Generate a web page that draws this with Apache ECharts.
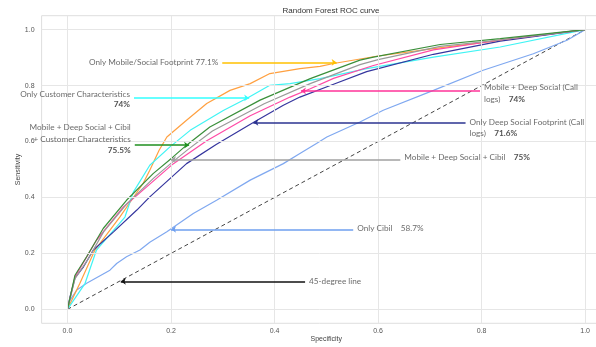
<!DOCTYPE html>
<html>
<head>
<meta charset="utf-8">
<script src="https://cdn.jsdelivr.net/npm/echarts@6/dist/echarts.min.js"></script>
<style>html,body{margin:0;padding:0;background:#fff}#c{width:596px;height:347px}</style>
</head>
<body>
<div id="c"></div>
<script>
// ---- data ----
const titleText = 'Random Forest ROC curve';
const xName = 'Specificity';
const yName = 'Sensitivity';
const xTicks = [0, 0.2, 0.4, 0.6, 0.8, 1.0];
const yTicks = [0, 0.2, 0.4, 0.6, 0.8, 1.0];

const cibil = [[0,0],[0.005,0.033],[0.018,0.069],[0.037,0.093],[0.082,0.14],[0.095,0.164],[0.114,0.188],[0.14,0.212],[0.159,0.24],[0.192,0.277],[0.201,0.289],[0.243,0.343],[0.288,0.39],[0.353,0.462],[0.417,0.521],[0.449,0.557],[0.481,0.593],[0.501,0.616],[0.565,0.67],[0.61,0.712],[0.707,0.783],[0.803,0.855],[0.9,0.914],[0.965,0.962],[1,1]];
const mobileSocial = [[0,0],[0.024,0.093],[0.053,0.212],[0.101,0.33],[0.146,0.45],[0.159,0.497],[0.177,0.569],[0.192,0.616],[0.23,0.676],[0.269,0.736],[0.314,0.783],[0.353,0.807],[0.391,0.843],[0.449,0.861],[0.488,0.869],[0.514,0.879],[0.597,0.905],[0.707,0.932],[0.836,0.962],[1,1]];
const customer = [[0,0],[0.034,0.093],[0.056,0.212],[0.111,0.33],[0.127,0.418],[0.159,0.515],[0.198,0.581],[0.237,0.64],[0.301,0.711],[0.346,0.754],[0.391,0.801],[0.43,0.807],[0.488,0.825],[0.578,0.861],[0.707,0.902],[0.836,0.938],[1,1]];
const deepSocial = [[0,0],[0.005,0.045],[0.0145,0.112],[0.031,0.152],[0.05,0.212],[0.089,0.277],[0.134,0.355],[0.159,0.402],[0.23,0.521],[0.288,0.59],[0.359,0.668],[0.417,0.73],[0.449,0.759],[0.514,0.805],[0.578,0.85],[0.707,0.912],[0.836,0.959],[1,1]];
const mobileDeep = [[0,0],[0.0145,0.116],[0.056,0.247],[0.108,0.366],[0.153,0.438],[0.204,0.52],[0.269,0.603],[0.353,0.692],[0.43,0.759],[0.469,0.789],[0.514,0.826],[0.591,0.872],[0.707,0.928],[0.836,0.963],[1,1]];
const mobileDeepCibil = [[0,0],[0.0145,0.11],[0.04,0.18],[0.07,0.278],[0.115,0.378],[0.167,0.47],[0.205,0.53],[0.233,0.572],[0.28,0.638],[0.38,0.735],[0.47,0.808],[0.565,0.875],[0.6,0.893],[0.72,0.94],[0.836,0.963],[1,1]];
const allFeatures = [[0,0],[0.0145,0.122],[0.037,0.188],[0.069,0.289],[0.114,0.39],[0.166,0.486],[0.204,0.545],[0.23,0.587],[0.275,0.652],[0.372,0.748],[0.469,0.825],[0.565,0.891],[0.591,0.902],[0.72,0.947],[0.836,0.968],[1,1]];
const diagonal = [[0,0],[1,1]];

// annotations: [tailX, headX, y]
const annOrange = [0.299, 0.52, 0.883];
const annCyan = [0.1285, 0.351, 0.756];
const annGreen = [0.13, 0.235, 0.587];
const annPink = [0.797, 0.451, 0.781];
const annNavy = [0.769, 0.359, 0.668];
const annGrey = [0.643, 0.2, 0.536];
const annBlue = [0.552, 0.2, 0.286];
const annBlack = [0.459, 0.103, 0.1];

const txtOrange = ['Only Mobile/Social Footprint ', '77.1%'];
const txtCyan = ['Only Customer Characteristics', '74%'];
const txtGreen = ['Mobile + Deep Social + Cibil', '+ Customer Characteristics', '75.5%'];
const txtPink = ['Mobile + Deep Social (Call', 'logs)', '74%'];
const txtNavy = ['Only Deep Social Footprint (Call', 'logs)', '71.6%'];
const txtGrey = ['Mobile + Deep Social + Cibil', '75%'];
const txtBlue = ['Only Cibil', '58.7%'];
const txtBlack = ['45-degree line'];

// ---- chart ----
const chart = echarts.init(document.getElementById('c'), null, {renderer: 'canvas'});
const annFont = 'Lato, "Noto Sans", sans-serif';
const annSize = 8.2;
const rich = {
  n: {fontFamily: annFont, fontSize: annSize, color: '#454545'},
  b: {fontFamily: annFont, fontSize: annSize, color: '#262626', fontWeight: 'bold'}
};

function curve(name, data, color, z) {
  return {name, type: 'line', data, symbol: 'none', z: z || 3,
    lineStyle: {color, width: 1.2}, itemStyle: {color}, animation: false, silent: true};
}
function arrowItem(a, color) {
  return [{coord: [a[0], a[2]], lineStyle: {color, width: 1.5, type: 'solid'}, symbol: 'none'},
          {coord: [a[1], a[2]], symbol: 'arrow', symbolSize: [5, 5]}];
}
function labelItem(a, text, side, offY, lh) {
  return {value: [a[0], a[2]], label: {show: true, position: side, distance: 4,
    offset: [0, offY || 0], formatter: text, rich, lineHeight: lh || 11,
    align: side === 'left' ? 'right' : 'left'}};
}

const gridLines = [];
xTicks.forEach(v => gridLines.push({xAxis: v}));
yTicks.forEach(v => gridLines.push({yAxis: v}));

const option = {
  animation: false,
  backgroundColor: '#fff',
  title: {text: titleText, left: 326, top: 2, textAlign: 'center',
    textStyle: {fontFamily: 'Liberation Sans, Arial, sans-serif', fontSize: 8, fontWeight: 'normal', color: '#333'}},
  grid: {left: 41.6, top: 15.7, bottom: 23.7, right: -15, show: true, containLabel: false,
    outerBoundsMode: 'none',
    borderColor: '#dedede', borderWidth: 1, backgroundColor: '#fff'},
  xAxis: {type: 'value', min: -0.05, max: 1.05, name: xName, nameLocation: 'middle', nameGap: 12,
    nameMoveOverlap: false,
    nameTextStyle: {fontFamily: 'Liberation Sans, Arial, sans-serif', fontSize: 7, color: '#444'},
    axisLine: {show: false}, axisTick: {show: false}, splitLine: {show: false},
    axisLabel: {customValues: xTicks, formatter: v => v.toFixed(1), margin: 4,
      fontFamily: 'Liberation Sans, Arial, sans-serif', fontSize: 7, color: '#555'}},
  yAxis: {type: 'value', min: -0.05, max: 1.05, name: yName, nameLocation: 'middle', nameGap: 20, nameRotate: 90,
    nameMoveOverlap: false,
    nameTextStyle: {fontFamily: 'Liberation Sans, Arial, sans-serif', fontSize: 7, color: '#444'},
    axisLine: {show: false}, axisTick: {show: false}, splitLine: {show: false},
    axisLabel: {customValues: yTicks, formatter: v => v.toFixed(1), margin: 7,
      fontFamily: 'Liberation Sans, Arial, sans-serif', fontSize: 7, color: '#555'}},
  series: [
    {name: 'grid', type: 'line', data: [], z: 1, silent: true,
      markLine: {silent: true, symbol: 'none', label: {show: false}, animation: false,
        lineStyle: {color: '#e6e6e6', width: 1, type: 'solid'}, data: gridLines}},
    {name: '45-degree line', type: 'line', data: diagonal, symbol: 'none', z: 2, silent: true,
      lineStyle: {color: '#444', width: 1, type: [4, 3]}},
    curve('Only Cibil', cibil, '#7fa8f0'),
    curve('Only Mobile/Social Footprint', mobileSocial, '#ffa040'),
    curve('Only Customer Characteristics', customer, '#40f4f4'),
    curve('Only Deep Social Footprint', deepSocial, '#35359e'),
    curve('Mobile + Deep Social', mobileDeep, '#ff4aa5'),
    curve('Mobile + Deep Social + Cibil', mobileDeepCibil, '#9a9a9a'),
    curve('Mobile + Deep Social + Cibil + Customer', allFeatures, '#3a8f3a', 4),
    {name: 'arrows', type: 'line', data: [], z: 5, silent: true,
      markLine: {silent: true, symbol: ['none', 'arrow'], symbolSize: 5, label: {show: false}, animation: false,
        data: [
          arrowItem(annOrange, '#ffc000'), arrowItem(annCyan, '#33ffff'), arrowItem(annGreen, '#1f8f1f'),
          arrowItem(annPink, '#ff3399'), arrowItem(annNavy, '#2b3390'), arrowItem(annGrey, '#a0a0a0'),
          arrowItem(annBlue, '#6e9fef'), arrowItem(annBlack, '#111')
        ]}},
    {name: 'labels', type: 'scatter', symbolSize: 0, z: 6, silent: true,
      data: [
        labelItem(annOrange, '{n|' + txtOrange[0] + '}{n|' + txtOrange[1] + '}', 'left', 0),
        labelItem(annCyan, '{n|' + txtCyan[0] + '}\n{b|' + txtCyan[1] + '}', 'left', 1.5, 10.5),
        labelItem(annGreen, '{n|' + txtGreen[0] + '}\n{n|' + txtGreen[1] + '}\n{b|' + txtGreen[2] + '}', 'left', -6, 11.5),
        labelItem(annPink, '{n|' + txtPink[0] + '}\n{n|' + txtPink[1] + '    }{b|' + txtPink[2] + '}', 'right', 2, 12),
        labelItem(annNavy, '{n|' + txtNavy[0] + '}\n{n|' + txtNavy[1] + '    }{b|' + txtNavy[2] + '}', 'right', 5.5, 11),
        labelItem(annGrey, '{n|' + txtGrey[0] + '    }{b|' + txtGrey[1] + '}', 'right', -2),
        labelItem(annBlue, '{n|' + txtBlue[0] + '    }{n|' + txtBlue[1] + '}', 'right', -1),
        labelItem(annBlack, '{n|' + txtBlack[0] + '}', 'right', -0.5)
      ]}
  ]
};
chart.setOption(option);
</script>
</body>
</html>
